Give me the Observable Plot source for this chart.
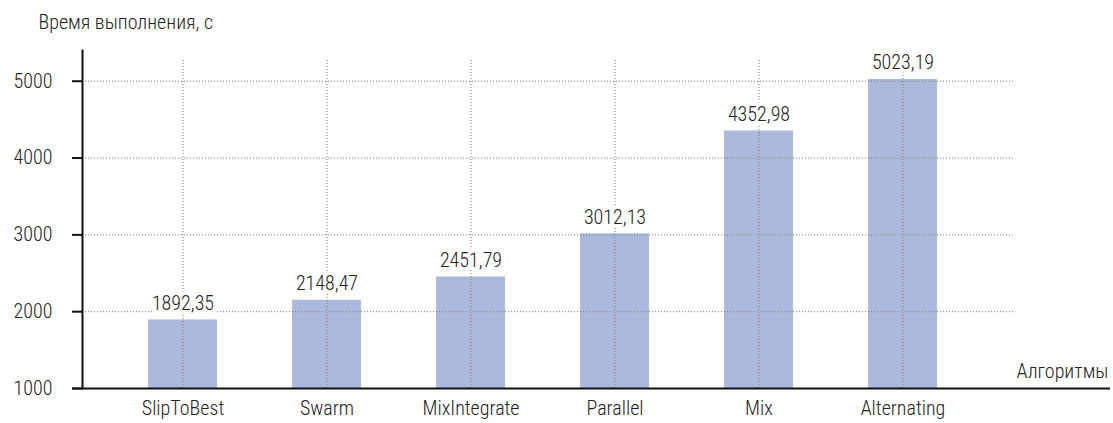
<!DOCTYPE html>
<html>
<head>
<meta charset="utf-8">
<script src="https://cdn.jsdelivr.net/npm/d3@7"></script>
<script src="https://cdn.jsdelivr.net/npm/@observablehq/plot@0.6"></script>
<style>
  html, body { margin: 0; padding: 0; background: #fff; }
  #chart svg { display: block; }
</style>
</head>
<body>
<div id="chart"></div>
<script>
const algorithms = ["SlipToBest", "Swarm", "MixIntegrate", "Parallel", "Mix", "Alternating"];
const times = [1892.35, 2148.47, 2451.79, 3012.13, 4352.98, 5023.19];
const yTicks = [1000, 2000, 3000, 4000, 5000];
const yTitle = "Время выполнения, с";
const xTitle = "Алгоритмы";

const data = algorithms.map((a, i) => ({algorithm: a, time: times[i]}));
const fmt = v => v.toFixed(2).replace(".", ",");
const font = "'Roboto Condensed', 'Liberation Sans Narrow', 'Arial Narrow', sans-serif";
const fs = 20;

const chart = Plot.plot({
  width: 1113,
  height: 423,
  marginLeft: 82,
  marginRight: 100,
  marginTop: 50,
  marginBottom: 35,
  style: {fontFamily: font, fontSize: fs + "px", fontWeight: 300, color: "#222", background: "#fff"},
  x: {domain: algorithms, paddingInner: 0.52, paddingOuter: 0.488, align: 0.465},
  y: {domain: [1000, 5400]},
  marks: [
    Plot.barY(data, {x: "algorithm", y1: 1000, y2: "time", fill: "#abb9dd"}),
    Plot.gridY(yTicks.slice(1), {stroke: "#777", strokeOpacity: 1, strokeDasharray: "1,2"}),
    Plot.gridX(algorithms, {stroke: "#777", strokeOpacity: 1, strokeDasharray: "1,2", insetTop: 10}),
    Plot.text(data, {x: "algorithm", y: "time", text: d => fmt(d.time), lineAnchor: "bottom", dy: -10,
      fontSize: fs, fontWeight: 300, fill: "#222", stroke: "white", strokeWidth: 8, paintOrder: "stroke"}),
    Plot.axisY(yTicks, {tickSize: 10, tickPadding: 20, strokeWidth: 2, stroke: "#111", fontSize: fs, fontWeight: 300, fill: "#222", label: null, tickFormat: d => String(d)}),
    Plot.axisX({tickSize: 0, tickPadding: 12, fontSize: fs, fontWeight: 300, fill: "#222", label: null}),
    Plot.frame({anchor: "left", stroke: "#111", strokeWidth: 2}),
    Plot.ruleY([1000], {stroke: "#111", strokeWidth: 2, insetLeft: -10, insetRight: -97}),
    Plot.text([yTitle], {frameAnchor: "top-left", textAnchor: "start", lineAnchor: "bottom", dx: -44, dy: -22, fontSize: fs, fontWeight: 300, fill: "#222"}),
    Plot.text([xTitle], {frameAnchor: "bottom-right", textAnchor: "start", lineAnchor: "bottom", dx: 3, dy: -11, fontSize: fs, fontWeight: 300, fill: "#222"})
  ]
});
document.getElementById("chart").appendChild(chart);
</script>
</body>
</html>
